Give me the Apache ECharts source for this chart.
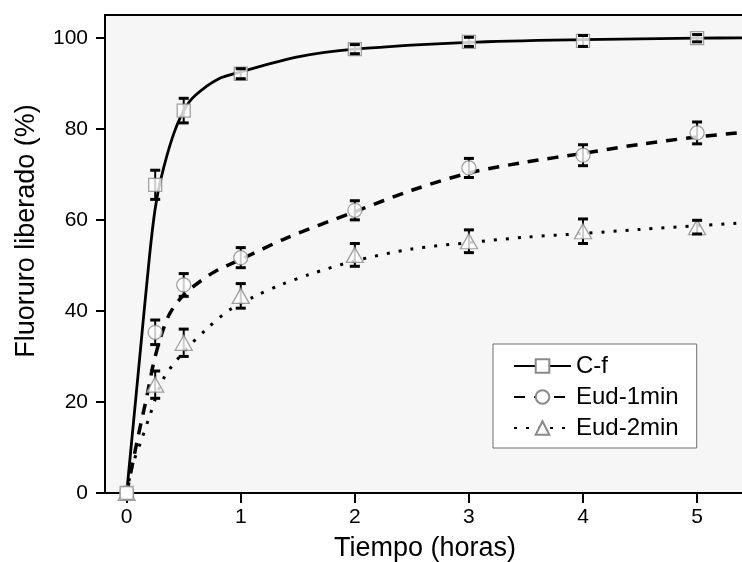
<!DOCTYPE html>
<html>
<head>
<meta charset="utf-8">
<script src="https://cdn.jsdelivr.net/npm/echarts@6/dist/echarts.min.js"></script>
<style>html,body{margin:0;padding:0;background:#fff}#c{width:742px;height:562px}</style>
</head>
<body>
<div id="c"></div>
<script>
// ---- data ----
const times = [0, 0.25, 0.5, 1, 2, 3, 4, 5];
const xTicks = [0, 1, 2, 3, 4, 5];
const yTicks = [0, 20, 40, 60, 80, 100];
const seriesNames = ['C-f', 'Eud-1min', 'Eud-2min'];

const cfMean  = [0, 67.7, 84.0, 92.1, 97.5, 99.1, 99.3, 99.9];
const cfErr   = [0, 3.2, 2.7, 1.1, 1.0, 1.0, 1.2, 0.8];
const e1Mean  = [0, 35.3, 45.7, 51.7, 62.1, 71.4, 74.2, 79.1];
const e1Err   = [0, 2.7, 2.5, 2.2, 2.1, 2.1, 2.3, 2.4];
const e2Mean  = [0, 23.8, 33.0, 43.3, 52.3, 55.3, 57.5, 58.4];
const e2Err   = [0, 3.0, 3.0, 2.7, 2.5, 2.5, 2.7, 1.5];

// fitted curves, points
const cfFitX = [0, 0.1, 0.2, 0.25, 0.3, 0.4, 0.5, 0.6, 0.8, 1, 1.5, 2, 3, 4, 5, 5.45];
const cfFitY = [0, 26, 52, 62.5, 69, 78, 84, 87.3, 90.9, 92.5, 95.8, 97.5, 99, 99.6, 99.9, 100];
const e1FitX = [0, 0.1, 0.175, 0.25, 0.365, 0.5, 0.75, 1, 1.4, 2, 2.5, 3, 3.5, 4, 4.5, 5, 5.45];
const e1FitY = [0, 12.4, 21, 30, 38.8, 43.5, 48.3, 51.3, 56, 61.8, 66.5, 70.3, 72.7, 74.6, 76.6, 78.2, 79.3];
const e2FitX = [0, 0.05, 0.13, 0.2, 0.32, 0.5, 0.7, 0.9, 1.13, 1.36, 1.6, 2, 2.5, 3, 3.5, 4, 4.5, 5, 5.45];
const e2FitY = [0, 6, 11.7, 16.8, 25, 31, 36, 40.2, 43.3, 45.8, 48, 51, 53.6, 55, 56.2, 57, 57.9, 58.7, 59.4];

// ---- chart ----
const FONT = 'Liberation Sans, Arial, Helvetica, sans-serif';
const zip = (a, b) => a.map((v, i) => [v, b[i]]);
const zip3 = (a, b, c) => a.map((v, i) => [v, b[i], c[i]]);
const markerStyle = { color: '#ffffff', borderColor: '#8a8a8a', borderWidth: 1.3 };

function stemItem(params, api) {
  const x = api.value(0), y = api.value(1), e = api.value(2);
  if (!e) return null;
  const lo = api.coord([x, y - e]), hi = api.coord([x, y + e]);
  return { type: 'line', shape: { x1: lo[0], y1: lo[1], x2: hi[0], y2: hi[1] },
           style: { stroke: '#000', lineWidth: 2 } };
}
function capItem(params, api) {
  const x = api.value(0), y = api.value(1), e = api.value(2);
  if (!e) return null;
  const lo = api.coord([x, y - e]), hi = api.coord([x, y + e]);
  const w = 5;
  return { type: 'group', children: [
    { type: 'line', shape: { x1: lo[0] - w, y1: lo[1], x2: lo[0] + w, y2: lo[1] }, style: { stroke: '#000', lineWidth: 3 } },
    { type: 'line', shape: { x1: hi[0] - w, y1: hi[1], x2: hi[0] + w, y2: hi[1] }, style: { stroke: '#000', lineWidth: 3 } }
  ]};
}

const groups = [
  { name: seriesNames[0], fx: cfFitX, fy: cfFitY, m: cfMean, e: cfErr, symbol: 'rect', size: 13, line: { color: '#000', width: 2.8, type: 'solid' } },
  { name: seriesNames[1], fx: e1FitX, fy: e1FitY, m: e1Mean, e: e1Err, symbol: 'circle', size: 14, line: { color: '#000', width: 3.5, type: [11, 9] } },
  { name: seriesNames[2], fx: e2FitX, fy: e2FitY, m: e2Mean, e: e2Err, symbol: 'triangle', size: [17, 15], line: { color: '#000', width: 3, type: [3, 9] } }
];

const series = [];
groups.forEach(g => {
  series.push({
    name: g.name, type: 'line', data: zip(g.fx, g.fy), smooth: 0.3,
    symbol: g.symbol, showSymbol: false, itemStyle: markerStyle, lineStyle: g.line, z: 1, silent: true
  });
});
groups.forEach(g => {
  series.push({ name: g.name + ' stem', type: 'custom', renderItem: stemItem, data: zip3(times, g.m, g.e), encode: { x: 0, y: 1 }, z: 2, silent: true });
});
groups.slice().reverse().forEach(g => {
  series.push({ name: g.name + ' pts', type: 'scatter', data: zip(times, g.m), symbol: g.symbol, symbolSize: g.size,
    itemStyle: markerStyle, z: 3, silent: true });
});
groups.forEach(g => {
  series.push({ name: g.name + ' cap', type: 'custom', renderItem: capItem, data: zip3(times, g.m, g.e), encode: { x: 0, y: 1 }, z: 4, silent: true });
});

const chart = echarts.init(document.getElementById('c'), null, { renderer: 'canvas' });
chart.setOption({
  animation: false,
  backgroundColor: '#ffffff',
  textStyle: { fontFamily: FONT, color: '#000' },
  grid: { left: 105, top: 15, right: -3, bottom: 69, show: true, backgroundColor: '#f6f6f6',
          borderColor: '#000', borderWidth: 2, outerBoundsMode: 'none', containLabel: false },
  legend: {
    data: seriesNames, orient: 'vertical', left: 493, top: 344,
    itemWidth: 57, itemHeight: 17, itemGap: 7, selectedMode: false,
    padding: [10, 18, 8, 20], backgroundColor: '#ffffff', borderColor: '#6e6e6e', borderWidth: 1,
    textStyle: { fontFamily: FONT, fontSize: 24, color: '#000' }
  },
  xAxis: {
    type: 'value', min: -0.19, max: 5.42,
    name: 'Tiempo (horas)', nameLocation: 'middle', nameGap: 42,
    nameTextStyle: { fontFamily: FONT, fontSize: 27, color: '#000' },
    axisLine: { show: true, onZero: false, lineStyle: { color: '#000', width: 2 } },
    axisTick: { show: true, length: 10, lineStyle: { color: '#000', width: 2 }, customValues: xTicks },
    axisLabel: { fontFamily: FONT, fontSize: 21, color: '#000', margin: 14, customValues: xTicks },
    splitLine: { show: false }
  },
  yAxis: {
    type: 'value', min: 0, max: 105,
    name: 'Fluoruro liberado (%)', nameLocation: 'middle', nameGap: 65,
    nameTextStyle: { fontFamily: FONT, fontSize: 27, color: '#000', padding: [0, 0, 0, 46] },
    axisLine: { show: true, onZero: false, lineStyle: { color: '#000', width: 2 } },
    axisTick: { show: true, length: 9, lineStyle: { color: '#000', width: 2 }, customValues: yTicks },
    axisLabel: { fontFamily: FONT, fontSize: 21, color: '#000', margin: 17, customValues: yTicks },
    splitLine: { show: false }
  },
  series: series
});
</script>
</body>
</html>
